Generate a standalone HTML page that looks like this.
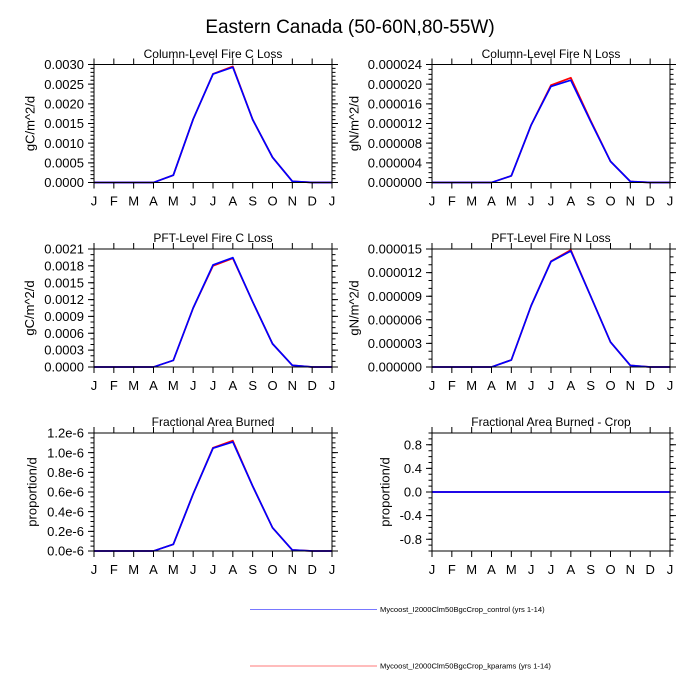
<!DOCTYPE html>
<html>
<head>
<meta charset="utf-8">
<style>
html,body{margin:0;padding:0;background:#fff;}
svg{display:block;}
text{font-family:"Liberation Sans",Arial,sans-serif;fill:#000;}
.yl{font-size:13px;text-anchor:end;}
.xl{font-size:13px;text-anchor:middle;}
.st{font-size:12px;text-anchor:middle;}
.ax{font-size:13px;text-anchor:middle;}
.fr{fill:none;stroke:#000;stroke-width:1;}
.tk{stroke:#000;fill:none;}
.red{fill:none;stroke:#ff0000;stroke-width:1.7;stroke-linejoin:round;}
.blue{fill:none;stroke:#0000ff;stroke-width:1.7;stroke-linejoin:round;}
</style>
</head>
<body>
<svg width="700" height="700" viewBox="0 0 700 700" xmlns="http://www.w3.org/2000/svg">
<rect width="700" height="700" fill="#fff"/>
<text x="350" y="33" style="font-size:19px;text-anchor:middle;">Eastern Canada (50-60N,80-55W)</text>

<!-- Panel 1 -->
<g transform="translate(94,64.5)">
<text class="st" x="119" y="-6.5">Column-Level Fire C Loss</text>
<polyline class="red" points="0,118 19.83,118 39.67,118 59.5,118 79.33,110.72 99.17,54.67 119,9.44 138.83,1.97 158.67,55.07 178.5,92.83 198.33,116.82 218.17,118 238,118"/>
<polyline class="blue" points="0,118 19.83,118 39.67,118 59.5,118 79.33,110.72 99.17,54.67 119,9.6 138.83,2.75 158.67,55.07 178.5,92.83 198.33,116.82 218.17,118 238,118"/>
<rect class="fr" x="0" y="0" width="238" height="118"/>
<line class="tk" x1="-0.5" y1="121" x2="238.6" y2="121" stroke-width="6" stroke-dasharray="1 18.8333"/>
<line class="tk" x1="-0.5" y1="-3" x2="238.6" y2="-3" stroke-width="6" stroke-dasharray="1 18.8333"/>
<line class="tk" x1="-3" y1="118.5" x2="-3" y2="-0.6" stroke-width="6" stroke-dasharray="1 18.6667"/>
<line class="tk" x1="-1.75" y1="118.5" x2="-1.75" y2="-0.6" stroke-width="3.5" stroke-dasharray="1 2.9333"/>
<line class="tk" x1="241" y1="118.5" x2="241" y2="-0.6" stroke-width="6" stroke-dasharray="1 18.6667"/>
<line class="tk" x1="239.75" y1="118.5" x2="239.75" y2="-0.6" stroke-width="3.5" stroke-dasharray="1 2.9333"/>
<text class="yl" x="-10" y="122.6">0.0000</text>
<text class="yl" x="-10" y="102.9">0.0005</text>
<text class="yl" x="-10" y="83.3">0.0010</text>
<text class="yl" x="-10" y="63.6">0.0015</text>
<text class="yl" x="-10" y="43.9">0.0020</text>
<text class="yl" x="-10" y="24.3">0.0025</text>
<text class="yl" x="-10" y="4.6">0.0030</text>
<text class="ax" transform="translate(-59.5,59) rotate(-90)">gC/m^2/d</text>
<text class="xl" x="0" y="141">J</text><text class="xl" x="19.83" y="141">F</text><text class="xl" x="39.67" y="141">M</text><text class="xl" x="59.5" y="141">A</text><text class="xl" x="79.33" y="141">M</text><text class="xl" x="99.17" y="141">J</text><text class="xl" x="119" y="141">J</text><text class="xl" x="138.83" y="141">A</text><text class="xl" x="158.67" y="141">S</text><text class="xl" x="178.5" y="141">O</text><text class="xl" x="198.33" y="141">N</text><text class="xl" x="218.17" y="141">D</text><text class="xl" x="238" y="141">J</text>
</g>

<!-- Panel 2 -->
<g transform="translate(432,64.5)">
<text class="st" x="119" y="-6.5">Column-Level Fire N Loss</text>
<polyline class="red" points="0,118 19.83,118 39.67,118 59.5,118 79.33,111.36 99.17,60.47 119,20.65 138.83,13.27 158.67,56.05 178.5,96.86 198.33,117.02 218.17,118 238,118"/>
<polyline class="blue" points="0,118 19.83,118 39.67,118 59.5,118 79.33,111.36 99.17,60.47 119,21.88 138.83,15.73 158.67,57.03 178.5,96.86 198.33,117.02 218.17,118 238,118"/>
<rect class="fr" x="0" y="0" width="238" height="118"/>
<line class="tk" x1="-0.5" y1="121" x2="238.6" y2="121" stroke-width="6" stroke-dasharray="1 18.8333"/>
<line class="tk" x1="-0.5" y1="-3" x2="238.6" y2="-3" stroke-width="6" stroke-dasharray="1 18.8333"/>
<line class="tk" x1="-3" y1="118.5" x2="-3" y2="-0.6" stroke-width="6" stroke-dasharray="1 18.6667"/>
<line class="tk" x1="-1.75" y1="118.5" x2="-1.75" y2="-0.6" stroke-width="3.5" stroke-dasharray="1 3.9167"/>
<line class="tk" x1="241" y1="118.5" x2="241" y2="-0.6" stroke-width="6" stroke-dasharray="1 18.6667"/>
<line class="tk" x1="239.75" y1="118.5" x2="239.75" y2="-0.6" stroke-width="3.5" stroke-dasharray="1 3.9167"/>
<text class="yl" x="-10" y="122.6">0.000000</text>
<text class="yl" x="-10" y="102.9">0.000004</text>
<text class="yl" x="-10" y="83.3">0.000008</text>
<text class="yl" x="-10" y="63.6">0.000012</text>
<text class="yl" x="-10" y="43.9">0.000016</text>
<text class="yl" x="-10" y="24.3">0.000020</text>
<text class="yl" x="-10" y="4.6">0.000024</text>
<text class="ax" transform="translate(-73.5,59) rotate(-90)">gN/m^2/d</text>
<text class="xl" x="0" y="141">J</text><text class="xl" x="19.83" y="141">F</text><text class="xl" x="39.67" y="141">M</text><text class="xl" x="59.5" y="141">A</text><text class="xl" x="79.33" y="141">M</text><text class="xl" x="99.17" y="141">J</text><text class="xl" x="119" y="141">J</text><text class="xl" x="138.83" y="141">A</text><text class="xl" x="158.67" y="141">S</text><text class="xl" x="178.5" y="141">O</text><text class="xl" x="198.33" y="141">N</text><text class="xl" x="218.17" y="141">D</text><text class="xl" x="238" y="141">J</text>
</g>

<!-- Panel 3 -->
<g transform="translate(94,249)">
<text class="st" x="119" y="-7">PFT-Level Fire C Loss</text>
<polyline class="red" points="0,118 19.83,118 39.67,118 59.5,118 79.33,111.37 99.17,59 119,16.86 138.83,9.33 158.67,52.82 178.5,94.74 198.33,116.31 218.17,118 238,118"/>
<polyline class="blue" points="0,118 19.83,118 39.67,118 59.5,118 79.33,111.37 99.17,59 119,15.96 138.83,8.65 158.67,52.82 178.5,94.74 198.33,116.31 218.17,118 238,118"/>
<rect class="fr" x="0" y="0" width="238" height="118"/>
<line class="tk" x1="-0.5" y1="121" x2="238.6" y2="121" stroke-width="6" stroke-dasharray="1 18.8333"/>
<line class="tk" x1="-0.5" y1="-3" x2="238.6" y2="-3" stroke-width="6" stroke-dasharray="1 18.8333"/>
<line class="tk" x1="-3" y1="118.5" x2="-3" y2="-0.6" stroke-width="6" stroke-dasharray="1 15.857"/>
<line class="tk" x1="-1.75" y1="118.5" x2="-1.75" y2="-0.6" stroke-width="3.5" stroke-dasharray="1 4.619"/>
<line class="tk" x1="241" y1="118.5" x2="241" y2="-0.6" stroke-width="6" stroke-dasharray="1 15.857"/>
<line class="tk" x1="239.75" y1="118.5" x2="239.75" y2="-0.6" stroke-width="3.5" stroke-dasharray="1 4.619"/>
<text class="yl" x="-10" y="122.6">0.0000</text>
<text class="yl" x="-10" y="105.7">0.0003</text>
<text class="yl" x="-10" y="88.9">0.0006</text>
<text class="yl" x="-10" y="72.0">0.0009</text>
<text class="yl" x="-10" y="55.2">0.0012</text>
<text class="yl" x="-10" y="38.3">0.0015</text>
<text class="yl" x="-10" y="21.5">0.0018</text>
<text class="yl" x="-10" y="4.6">0.0021</text>
<text class="ax" transform="translate(-60,59) rotate(-90)">gC/m^2/d</text>
<text class="xl" x="0" y="141">J</text><text class="xl" x="19.83" y="141">F</text><text class="xl" x="39.67" y="141">M</text><text class="xl" x="59.5" y="141">A</text><text class="xl" x="79.33" y="141">M</text><text class="xl" x="99.17" y="141">J</text><text class="xl" x="119" y="141">J</text><text class="xl" x="138.83" y="141">A</text><text class="xl" x="158.67" y="141">S</text><text class="xl" x="178.5" y="141">O</text><text class="xl" x="198.33" y="141">N</text><text class="xl" x="218.17" y="141">D</text><text class="xl" x="238" y="141">J</text>
</g>

<!-- Panel 4 -->
<g transform="translate(432,249)">
<text class="st" x="119" y="-7">PFT-Level Fire N Loss</text>
<polyline class="red" points="0,118 19.83,118 39.67,118 59.5,118 79.33,111 99.17,56.64 119,12.2 138.83,1.02 158.67,47.2 178.5,93.06 198.33,116.43 218.17,118 238,118"/>
<polyline class="blue" points="0,118 19.83,118 39.67,118 59.5,118 79.33,111 99.17,56.64 119,12.59 138.83,1.97 158.67,47.2 178.5,93.06 198.33,116.43 218.17,118 238,118"/>
<rect class="fr" x="0" y="0" width="238" height="118"/>
<line class="tk" x1="-0.5" y1="121" x2="238.6" y2="121" stroke-width="6" stroke-dasharray="1 18.8333"/>
<line class="tk" x1="-0.5" y1="-3" x2="238.6" y2="-3" stroke-width="6" stroke-dasharray="1 18.8333"/>
<line class="tk" x1="-3" y1="118.5" x2="-3" y2="-0.6" stroke-width="6" stroke-dasharray="1 22.6"/>
<line class="tk" x1="-1.75" y1="118.5" x2="-1.75" y2="-0.6" stroke-width="3.5" stroke-dasharray="1 6.8667"/>
<line class="tk" x1="241" y1="118.5" x2="241" y2="-0.6" stroke-width="6" stroke-dasharray="1 22.6"/>
<line class="tk" x1="239.75" y1="118.5" x2="239.75" y2="-0.6" stroke-width="3.5" stroke-dasharray="1 6.8667"/>
<text class="yl" x="-10" y="122.6">0.000000</text>
<text class="yl" x="-10" y="99.0">0.000003</text>
<text class="yl" x="-10" y="75.4">0.000006</text>
<text class="yl" x="-10" y="51.8">0.000009</text>
<text class="yl" x="-10" y="28.2">0.000012</text>
<text class="yl" x="-10" y="4.6">0.000015</text>
<text class="ax" transform="translate(-73.5,59) rotate(-90)">gN/m^2/d</text>
<text class="xl" x="0" y="141">J</text><text class="xl" x="19.83" y="141">F</text><text class="xl" x="39.67" y="141">M</text><text class="xl" x="59.5" y="141">A</text><text class="xl" x="79.33" y="141">M</text><text class="xl" x="99.17" y="141">J</text><text class="xl" x="119" y="141">J</text><text class="xl" x="138.83" y="141">A</text><text class="xl" x="158.67" y="141">S</text><text class="xl" x="178.5" y="141">O</text><text class="xl" x="198.33" y="141">N</text><text class="xl" x="218.17" y="141">D</text><text class="xl" x="238" y="141">J</text>
</g>

<!-- Panel 5 -->
<g transform="translate(94,433)">
<text class="st" x="119" y="-7">Fractional Area Burned</text>
<polyline class="red" points="0,118 19.83,118 39.67,118 59.5,118 79.33,111.31 99.17,60.97 119,14.75 138.83,7.67 158.67,53.1 178.5,94.69 198.33,117.02 218.17,118 238,118"/>
<polyline class="blue" points="0,118 19.83,118 39.67,118 59.5,118 79.33,111.31 99.17,60.97 119,15.24 138.83,8.95 158.67,53.1 178.5,94.69 198.33,117.02 218.17,118 238,118"/>
<rect class="fr" x="0" y="0" width="238" height="118"/>
<line class="tk" x1="-0.5" y1="121" x2="238.6" y2="121" stroke-width="6" stroke-dasharray="1 18.8333"/>
<line class="tk" x1="-0.5" y1="-3" x2="238.6" y2="-3" stroke-width="6" stroke-dasharray="1 18.8333"/>
<line class="tk" x1="-3" y1="118.5" x2="-3" y2="-0.6" stroke-width="6" stroke-dasharray="1 18.6667"/>
<line class="tk" x1="-1.75" y1="118.5" x2="-1.75" y2="-0.6" stroke-width="3.5" stroke-dasharray="1 3.9167"/>
<line class="tk" x1="241" y1="118.5" x2="241" y2="-0.6" stroke-width="6" stroke-dasharray="1 18.6667"/>
<line class="tk" x1="239.75" y1="118.5" x2="239.75" y2="-0.6" stroke-width="3.5" stroke-dasharray="1 3.9167"/>
<text class="yl" x="-10" y="122.6">0.0e-6</text>
<text class="yl" x="-10" y="102.9">0.2e-6</text>
<text class="yl" x="-10" y="83.3">0.4e-6</text>
<text class="yl" x="-10" y="63.6">0.6e-6</text>
<text class="yl" x="-10" y="43.9">0.8e-6</text>
<text class="yl" x="-10" y="24.3">1.0e-6</text>
<text class="yl" x="-10" y="4.6">1.2e-6</text>
<text class="ax" transform="translate(-57.5,59) rotate(-90)">proportion/d</text>
<text class="xl" x="0" y="141">J</text><text class="xl" x="19.83" y="141">F</text><text class="xl" x="39.67" y="141">M</text><text class="xl" x="59.5" y="141">A</text><text class="xl" x="79.33" y="141">M</text><text class="xl" x="99.17" y="141">J</text><text class="xl" x="119" y="141">J</text><text class="xl" x="138.83" y="141">A</text><text class="xl" x="158.67" y="141">S</text><text class="xl" x="178.5" y="141">O</text><text class="xl" x="198.33" y="141">N</text><text class="xl" x="218.17" y="141">D</text><text class="xl" x="238" y="141">J</text>
</g>

<!-- Panel 6 -->
<g transform="translate(432,433)">
<text class="st" x="119" y="-7">Fractional Area Burned - Crop</text>
<line class="red" x1="0" y1="59" x2="238" y2="59"/>
<line class="blue" x1="0" y1="59" x2="238" y2="59"/>
<rect class="fr" x="0" y="0" width="238" height="118"/>
<line class="tk" x1="-0.5" y1="121" x2="238.6" y2="121" stroke-width="6" stroke-dasharray="1 18.8333"/>
<line class="tk" x1="-0.5" y1="-3" x2="238.6" y2="-3" stroke-width="6" stroke-dasharray="1 18.8333"/>
<line class="tk" x1="-3" y1="106.7" x2="-3" y2="11.2" stroke-width="6" stroke-dasharray="1 22.6"/>
<line class="tk" x1="-1.75" y1="118.5" x2="-1.75" y2="-0.6" stroke-width="3.5" stroke-dasharray="1 4.9"/>
<line class="tk" x1="241" y1="106.7" x2="241" y2="11.2" stroke-width="6" stroke-dasharray="1 22.6"/>
<line class="tk" x1="239.75" y1="118.5" x2="239.75" y2="-0.6" stroke-width="3.5" stroke-dasharray="1 4.9"/>
<text class="yl" x="-10" y="110.8">-0.8</text>
<text class="yl" x="-10" y="87.2">-0.4</text>
<text class="yl" x="-10" y="63.6">0.0</text>
<text class="yl" x="-10" y="40.0">0.4</text>
<text class="yl" x="-10" y="16.4">0.8</text>
<text class="ax" transform="translate(-42.5,59) rotate(-90)">proportion/d</text>
<text class="xl" x="0" y="141">J</text><text class="xl" x="19.83" y="141">F</text><text class="xl" x="39.67" y="141">M</text><text class="xl" x="59.5" y="141">A</text><text class="xl" x="79.33" y="141">M</text><text class="xl" x="99.17" y="141">J</text><text class="xl" x="119" y="141">J</text><text class="xl" x="138.83" y="141">A</text><text class="xl" x="158.67" y="141">S</text><text class="xl" x="178.5" y="141">O</text><text class="xl" x="198.33" y="141">N</text><text class="xl" x="218.17" y="141">D</text><text class="xl" x="238" y="141">J</text>
</g>

<!-- Legend -->
<rect x="250" y="609" width="127" height="1" fill="rgb(120,120,255)"/>
<text x="380" y="612" style="font-size:7.6px;">Mycoost_I2000Clm50BgcCrop_control (yrs 1-14)</text>
<rect x="250" y="665.5" width="127" height="1" fill="rgb(255,120,120)"/>
<text x="380" y="668.5" style="font-size:7.6px;">Mycoost_I2000Clm50BgcCrop_kparams (yrs 1-14)</text>
</svg>
</body>
</html>
